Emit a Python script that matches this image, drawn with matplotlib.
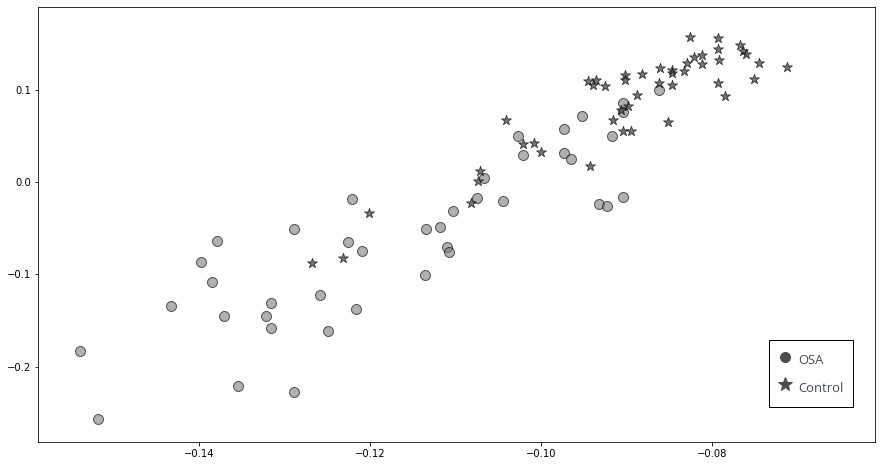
import numpy as np
import matplotlib
matplotlib.use("Agg")
import matplotlib.pyplot as plt
from matplotlib.lines import Line2D

# OSA group (circles)
osa_x = [-0.1539, -0.1518, -0.1433, -0.1398, -0.1385, -0.1379, -0.1371, -0.1354,
         -0.1322, -0.1316, -0.1316, -0.1289, -0.1289, -0.1258, -0.1249, -0.1226,
         -0.1221, -0.1216, -0.1209, -0.1134, -0.1136, -0.1118, -0.1110, -0.1108,
         -0.1103, -0.1075, -0.1066, -0.1044, -0.1027, -0.1021, -0.0973, -0.0973,
         -0.0965, -0.0952, -0.0932, -0.0922, -0.0917, -0.0904, -0.0904, -0.0904,
         -0.0862]
osa_y = [-0.1830, -0.2567, -0.1342, -0.0864, -0.1081, -0.0637, -0.1450, -0.2209,
         -0.1450, -0.1309, -0.1580, -0.0507, -0.2274, -0.1222, -0.1613, -0.0648,
         -0.0181, -0.1374, -0.0745, -0.0507, -0.1005, -0.0485, -0.0702, -0.0756,
         -0.0311, -0.0170, 0.0047, -0.0203, 0.0502, 0.0296, 0.0578, 0.0318,
         0.0253, 0.0719, -0.0235, -0.0257, 0.0502, -0.0159, 0.0860, 0.0762,
         0.1001]

# Control group (stars)
ctrl_x = [-0.1268, -0.1232, -0.1201, -0.1082, -0.1073, -0.1071, -0.1041, -0.1021,
          -0.1008, -0.1000, -0.0945, -0.0936, -0.0939, -0.0925, -0.0943, -0.0916,
          -0.0906, -0.0898, -0.0904, -0.0894, -0.0901, -0.0901, -0.0887, -0.0882,
          -0.0862, -0.0860, -0.0847, -0.0847, -0.0846, -0.0851, -0.0832, -0.0829,
          -0.0826, -0.0821, -0.0812, -0.0812, -0.0793, -0.0793, -0.0791, -0.0793,
          -0.0784, -0.0767, -0.0764, -0.0760, -0.0750, -0.0745, -0.0712]
ctrl_y = [-0.0875, -0.0821, -0.0333, -0.0225, 0.0014, 0.0123, 0.0676, 0.0415,
          0.0426, 0.0329, 0.1099, 0.1110, 0.1055, 0.1044, 0.0177, 0.0676,
          0.0784, 0.0828, 0.0556, 0.0556, 0.1164, 0.1110, 0.0947, 0.1175,
          0.1077, 0.1240, 0.1218, 0.1185, 0.1055, 0.0654, 0.1207, 0.1294,
          0.1576, 0.1359, 0.1381, 0.1283, 0.1565, 0.1446, 0.1326, 0.1077,
          0.0936, 0.1489, 0.1424, 0.1392, 0.1120, 0.1294, 0.1251]

labels = ["OSA", "Control"]

fig = plt.figure(figsize=(882/72, 466/72), dpi=72)
ax = fig.add_axes([38.3/882, (466-442.3)/466, (875-38.3)/882, (442.3-7.3)/466])

ax.scatter(osa_x, osa_y, s=100, marker="o", facecolor="gray", edgecolor="k",
           linewidths=1, alpha=0.62)
ax.scatter(ctrl_x, ctrl_y, s=110, marker="*", facecolor="#3a3a3a", edgecolor="k",
           linewidths=0.8, alpha=0.7)

ax.set_xlim(-0.1588, -0.0609)
ax.set_ylim(-0.2820, 0.1898)
ax.set_xticks([-0.14, -0.12, -0.10, -0.08])
ax.set_yticks([-0.2, -0.1, 0.0, 0.1])

handles = [Line2D([], [], ls="none", marker="o", markersize=10, color="#4d4d4d"),
           Line2D([], [], ls="none", marker="*", markersize=15, color="#4d4d4d")]
leg = ax.legend(handles, labels, loc="upper right", bbox_to_anchor=(0.9737, 0.235),
                frameon=True, fancybox=False, edgecolor="k", framealpha=1,
                prop={"family": "Open Sans", "size": 13}, labelcolor="#404a5a",
                handlelength=1.1, handleheight=2.15, handletextpad=0.5,
                labelspacing=0.5, borderpad=0.7, borderaxespad=0)
leg.get_frame().set_linewidth(1.0)

fig.savefig("out.png", dpi=72)
